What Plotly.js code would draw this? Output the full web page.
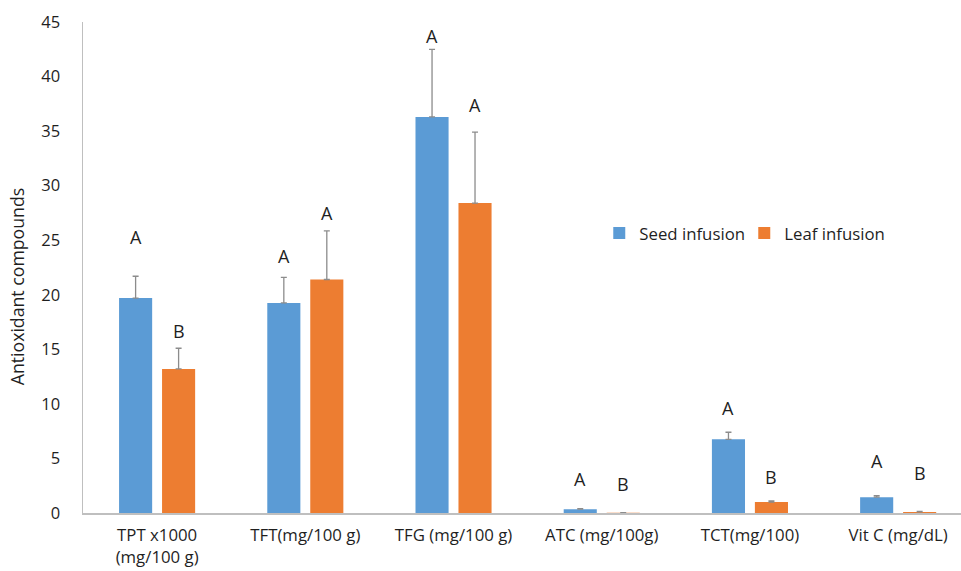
<!DOCTYPE html>
<html>
<head>
<meta charset="utf-8">
<script src="https://cdn.plot.ly/plotly-3.0.1.min.js"></script>
<style>html,body{margin:0;padding:0;background:#fff;}#chart{width:961px;height:571px;}</style>
</head>
<body>
<div id="chart"></div>
<script>
var categories = ["TPT x1000<br>(mg/100 g)", "TFT(mg/100 g)", "TFG (mg/100 g)", "ATC (mg/100g)", "TCT(mg/100)", "Vit C (mg/dL)"];
var seedValues = [19.7, 19.25, 36.3, 0.35, 6.75, 1.45];
var leafValues = [13.2, 21.4, 28.4, 0.03, 1.0, 0.1];
var seedErrors = [2.0, 2.35, 6.2, 0.05, 0.65, 0.15];
var leafErrors = [1.9, 4.45, 6.5, 0.0, 0.1, 0.05];
var seedLetters = ["A", "A", "A", "A", "A", "A"];
var leafLetters = ["B", "A", "A", "B", "B", "B"];
var seedLetterY = [25.3, 23.6, 43.7, 3.1, 9.6, 4.8];
var leafLetterY = [16.7, 27.5, 37.4, 2.7, 3.3, 3.7];
var yTicks = [0, 5, 10, 15, 20, 25, 30, 35, 40, 45];

var FONT = "'Open Sans', Lato, sans-serif";
var TXT = "#1f1f1f";
var idx = categories.map(function(_, i){ return i; });

var errStyle = {type: "data", symmetric: false, color: "#8c8c8c", thickness: 1.3, width: 3};

var traces = [
  {type: "bar", name: "Seed infusion", x: idx, y: seedValues,
   marker: {color: "#5B9BD5"},
   error_y: Object.assign({array: seedErrors, arrayminus: idx.map(function(){return 0;})}, errStyle)},
  {type: "bar", name: "Leaf infusion", x: idx, y: leafValues,
   marker: {color: "#ED7D31"},
   error_y: Object.assign({array: leafErrors, arrayminus: idx.map(function(){return 0;})}, errStyle)}
];

var annotations = [];
var groupW = 1 - 0.42;
var off = groupW / 4;
idx.forEach(function(i){
  annotations.push({x: i - off, y: seedLetterY[i], xref: "x", yref: "y", text: seedLetters[i], showarrow: false,
    font: {family: FONT, size: 18, color: TXT}});
  annotations.push({x: i + off, y: leafLetterY[i], xref: "x", yref: "y", text: leafLetters[i], showarrow: false,
    font: {family: FONT, size: 18, color: TXT}});
});
// y-axis title (placed as annotation to match the reference position)
annotations.push({xref: "paper", yref: "paper", x: -0.075, y: 0.46, xanchor: "center", yanchor: "middle",
  text: "Antioxidant compounds", textangle: -90, showarrow: false,
  font: {family: FONT, size: 17.7, color: TXT}});

var layout = {
  width: 961, height: 571,
  margin: {l: 83, r: 0, t: 22, b: 58, pad: 0},
  paper_bgcolor: "#ffffff", plot_bgcolor: "#ffffff",
  font: {family: FONT, size: 15, color: TXT},
  barmode: "group", bargap: 0.42, bargroupgap: 0.23,
  showlegend: true,
  legend: {orientation: "h", x: 0.588, y: 0.57, xanchor: "left", yanchor: "middle",
    font: {family: FONT, size: 16.8, color: TXT}, bgcolor: "rgba(0,0,0,0)", entrywidth: 100},
  xaxis: {
    tickmode: "array", tickvals: idx, ticktext: categories,
    range: [-0.5, 5.424], showgrid: false, zeroline: false,
    showline: true, linecolor: "#bfbfbf", linewidth: 1.5, ticks: "", ticklabelstandoff: 6,
    tickfont: {family: FONT, size: 16.8, color: TXT}, fixedrange: true
  },
  yaxis: {
    range: [0, 45], tickmode: "array", tickvals: yTicks, ticktext: yTicks.map(String),
    showgrid: false, zeroline: false, showline: true, linecolor: "#bfbfbf", linewidth: 1.5,
    ticks: "", ticklabelstandoff: 18,
    tickfont: {family: FONT, size: 16.5, color: TXT}
  },
  annotations: annotations
};

Plotly.newPlot("chart", traces, layout, {displayModeBar: false, staticPlot: true});
</script>
</body>
</html>
